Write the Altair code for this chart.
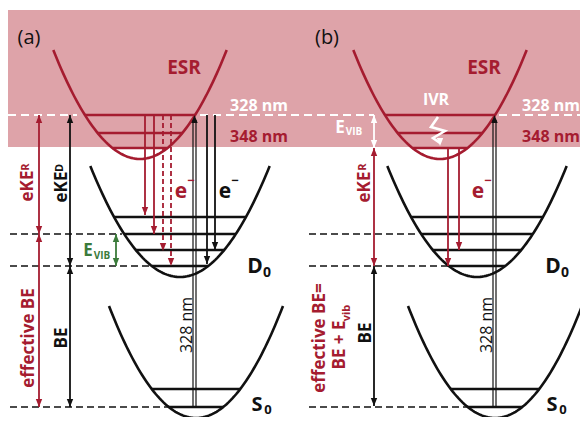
import altair as alt
import numpy as np
import pandas as pd

RED = "#a51c30"
PINK = "#dea3a9"
GREEN = "#3b7b3b"
BLACK = "#111111"
WHITE = "#ffffff"
FONT = "Open Sans"

# ---------------- data (pixel-space diagram coordinates) ----------------
band_x, band_x2, band_y, band_y2 = [8], [588], [10], [147]

curve_names = ["ESR_a", "D0_a", "S0_a", "ESR_b", "D0_b", "S0_b"]
curve_vx = [140, 180, 196, 440, 477, 495]
curve_vy = [159, 277, 418, 159, 277, 418]
curve_k = [0.0145, 0.0138, 0.0148, 0.0145, 0.0138, 0.0148]
curve_top = [50, 166, 306, 50, 166, 306]
curve_color = [RED, BLACK, BLACK, RED, BLACK, BLACK]

level_curve = ["ESR_a"] * 3 + ["D0_a"] * 4 + ["S0_a"] * 2 + ["ESR_b"] * 3 + ["D0_b"] * 4 + ["S0_b"] * 2
level_y = [115, 133, 148, 217, 234, 250, 266, 389, 407] * 2

guide_y = [115, 115, 115, 234, 266, 407, 234, 266, 407]
guide_x1 = [8, 200, 499, 10, 10, 10, 309, 309, 309]
guide_x2 = [77, 374, 588, 122, 152, 168, 417, 450, 467]
guide_color = [WHITE] * 3 + [BLACK] * 6

arrow_x = [145, 154, 163, 171, 207, 215, 39, 39, 70, 70, 116, 374, 374, 374, 448, 459]
arrow_ya = [115, 115, 115, 115, 115, 115, 115, 234, 115, 266, 234, 115, 148, 266, 148, 148]
arrow_yb = [215, 234, 251, 266, 264, 250, 234, 407, 266, 407, 266, 148, 266, 406, 266, 250]
arrow_color = [RED, RED, RED, RED, BLACK, BLACK, RED, RED, BLACK, BLACK, GREEN, WHITE, RED, BLACK, RED, RED]
arrow_dashed = [False, False, True, True, False, False, False, False, False, False, False, False, False, False, False, False]
arrow_head_a = [False] * 6 + [True] * 6 + [True, True, False, False]

pump_x = [193, 196, 493, 496]
pump_y1 = [407, 407, 407, 407]
pump_y2 = [120, 120, 120, 120]
pump_head_x = [194.5, 494.5]
pump_head_y = [115, 115]

squiggle_x = [438, 431, 445, 433, 440]
squiggle_y = [117, 127, 131, 138, 143]

# text: label, x, y, size, color, angle, weight
texts = [
    ("(a)", 29, 38, 20, BLACK, 0, "normal"),
    ("(b)", 327, 38, 20, BLACK, 0, "normal"),
    ("ESR", 184, 68, 19, RED, 0, "bold"),
    ("ESR", 484, 68, 19, RED, 0, "bold"),
    ("328 nm", 259, 106, 16, WHITE, 0, "bold"),
    ("328 nm", 551, 106, 16, WHITE, 0, "bold"),
    ("348 nm", 259, 137, 16, RED, 0, "bold"),
    ("348 nm", 551, 137, 16, RED, 0, "bold"),
    ("IVR", 436, 100, 16, WHITE, 0, "bold"),
    ("e", 181, 192, 21, RED, 0, "bold"),
    ("\u2212", 191, 181, 13, RED, 0, "bold"),
    ("e", 225, 192, 21, BLACK, 0, "bold"),
    ("\u2212", 235, 181, 13, BLACK, 0, "bold"),
    ("e", 478, 192, 21, RED, 0, "bold"),
    ("\u2212", 488, 181, 13, RED, 0, "bold"),
    ("D", 255, 267, 21, BLACK, 0, "bold"),
    ("0", 267, 273, 14, BLACK, 0, "bold"),
    ("D", 553, 267, 21, BLACK, 0, "bold"),
    ("0", 565, 273, 14, BLACK, 0, "bold"),
    ("S", 257, 405, 20, BLACK, 0, "bold"),
    ("0", 268, 410, 13, BLACK, 0, "bold"),
    ("S", 552, 405, 20, BLACK, 0, "bold"),
    ("0", 563, 410, 13, BLACK, 0, "bold"),
    ("E", 88, 251, 17, GREEN, 0, "bold"),
    ("VIB", 102, 256, 10, GREEN, 0, "bold"),
    ("E", 340, 128, 17, WHITE, 0, "semi"),
    ("VIB", 354, 132, 10, WHITE, 0, "semi"),
    ("eKE", 28, 186, 17, RED, 270, "semi"),
    ("R", 26, 167, 11, RED, 270, "semi"),
    ("eKE", 62, 187, 17, BLACK, 270, "semi"),
    ("D", 60, 168, 11, BLACK, 270, "semi"),
    ("effective BE", 29, 338, 17, RED, 270, "semi"),
    ("BE", 62, 338, 17, BLACK, 270, "semi"),
    ("328 nm", 187, 325, 16, BLACK, 270, "normal"),
    ("eKE", 365, 187, 17, RED, 270, "semi"),
    ("R", 363, 167, 11, RED, 270, "semi"),
    ("effective BE=", 320, 338, 17, RED, 270, "semi"),
    ("BE + E", 340, 345, 17, RED, 270, "semi"),
    ("vib", 347, 313, 11, RED, 270, "semi"),
    ("BE", 366, 333, 17, BLACK, 270, "semi"),
    ("328 nm", 487, 325, 16, BLACK, 270, "normal"),
]

# ---------------- build tables ----------------
curve_map = {n: (vx, vy, k, c) for n, vx, vy, k, c in zip(curve_names, curve_vx, curve_vy, curve_k, curve_color)}

rows = []
for n, vx, vy, k, top, c in zip(curve_names, curve_vx, curve_vy, curve_k, curve_top, curve_color):
    half = np.sqrt((vy - top) / k)
    xs = np.linspace(vx - half, vx + half, 90)
    for i, xx in enumerate(xs):
        rows.append(dict(curve=n, i=i, x=float(xx), y=float(vy - k * (xx - vx) ** 2), color=c))
curves_df = pd.DataFrame(rows)

lrows = []
for n, yy in zip(level_curve, level_y):
    vx, vy, k, c = curve_map[n]
    half = np.sqrt((vy - yy) / k)
    lrows.append(dict(x=vx - half, x2=vx + half, y=yy, color=c, w=2.6 if c == RED else 2.3))
levels_df = pd.DataFrame(lrows)

guides_df = pd.DataFrame(dict(x=guide_x1, x2=guide_x2, y=guide_y, color=guide_color))

arr_df = pd.DataFrame(dict(x=arrow_x, y=arrow_ya, y2=arrow_yb, color=arrow_color, dashed=arrow_dashed))
heads = []
for x, ya, yb, c, ha in zip(arrow_x, arrow_ya, arrow_yb, arrow_color, arrow_head_a):
    heads.append(dict(x=x, y=yb, color=c, dir="down" if yb > ya else "up"))
    if ha:
        heads.append(dict(x=x, y=ya, color=c, dir="up" if yb > ya else "down"))
for hx, hy in zip(pump_head_x, pump_head_y):
    heads.append(dict(x=hx, y=hy, color=BLACK, dir="up"))
heads.append(dict(x=squiggle_x[-1], y=squiggle_y[-1] + 3, color=WHITE, dir="down"))
heads_df = pd.DataFrame(heads)

pump_df = pd.DataFrame(dict(x=pump_x, y=pump_y1, y2=pump_y2))
squig_df = pd.DataFrame(dict(x=squiggle_x, y=squiggle_y, i=range(len(squiggle_x))))
text_df = pd.DataFrame(texts, columns=["t", "x", "y", "size", "color", "angle", "weight"])

# ---------------- chart ----------------
xs_ = alt.Scale(domain=[8, 580], nice=False, zero=False)
ys_ = alt.Scale(domain=[8, 417], nice=False, zero=False, reverse=True)
X = lambda f="x": alt.X(f"{f}:Q", scale=xs_, axis=None)
Y = lambda f="y": alt.Y(f"{f}:Q", scale=ys_, axis=None)
COL = alt.Color("color:N", scale=None)

band = alt.Chart(pd.DataFrame(dict(x=band_x, x2=band_x2, y=band_y, y2=band_y2))).mark_rect(color=PINK).encode(
    x=X(), x2="x2:Q", y=Y(), y2="y2:Q")

curves = alt.Chart(curves_df).mark_line(strokeWidth=2.6, clip=False).encode(
    x=X(), y=Y(), detail="curve:N", order="i:Q", color=COL)

levels = alt.Chart(levels_df).mark_rule().encode(
    x=X(), x2="x2:Q", y=Y(), color=COL, strokeWidth=alt.StrokeWidth("w:Q", scale=None))

guides_w = alt.Chart(guides_df[guides_df.color == WHITE]).mark_rule(strokeDash=[8, 5], strokeWidth=1.8).encode(
    x=X(), x2="x2:Q", y=Y(), color=COL)
guides_k = alt.Chart(guides_df[guides_df.color == BLACK]).mark_rule(strokeDash=[7, 4], strokeWidth=1.6).encode(
    x=X(), x2="x2:Q", y=Y(), color=COL)

arr_solid = alt.Chart(arr_df[~arr_df.dashed]).mark_rule(strokeWidth=1.8).encode(
    x=X(), y=Y(), y2="y2:Q", color=COL)
arr_dash = alt.Chart(arr_df[arr_df.dashed]).mark_rule(strokeWidth=1.8, strokeDash=[5, 3]).encode(
    x=X(), y=Y(), y2="y2:Q", color=COL)

pump = alt.Chart(pump_df).mark_rule(strokeWidth=1.2, color=BLACK).encode(x=X(), y=Y(), y2="y2:Q")

head_down = alt.Chart(heads_df[heads_df.dir == "down"]).mark_point(
    shape="M0,0L-0.4,-1L0.4,-1Z", filled=True, size=256, opacity=1, strokeWidth=0).encode(x=X(), y=Y(), color=COL)
head_up = alt.Chart(heads_df[heads_df.dir == "up"]).mark_point(
    shape="M0,0L-0.4,1L0.4,1Z", filled=True, size=256, opacity=1, strokeWidth=0).encode(x=X(), y=Y(), color=COL)

squig = alt.Chart(squig_df).mark_line(color=WHITE, strokeWidth=2.6).encode(x=X(), y=Y(), order="i:Q")

def text_layer(weight, fw):
    d = text_df[text_df.weight == weight]
    return alt.Chart(d).mark_text(font=FONT, fontWeight=fw, align="center", baseline="middle").encode(
        x=X(), y=Y(), text="t:N", color=COL,
        size=alt.Size("size:Q", scale=None),
        angle=alt.Angle("angle:Q", scale=None))

chart = alt.layer(
    band, curves, levels, guides_w, guides_k, pump, arr_solid, arr_dash, head_down, head_up, squig,
    text_layer("normal", 400), text_layer("semi", 700), text_layer("bold", 700),
).properties(width=572, height=409, padding=0, autosize="none").configure_view(stroke=None)

chart.save("out.html", embed_options={"renderer": "svg", "actions": False})
